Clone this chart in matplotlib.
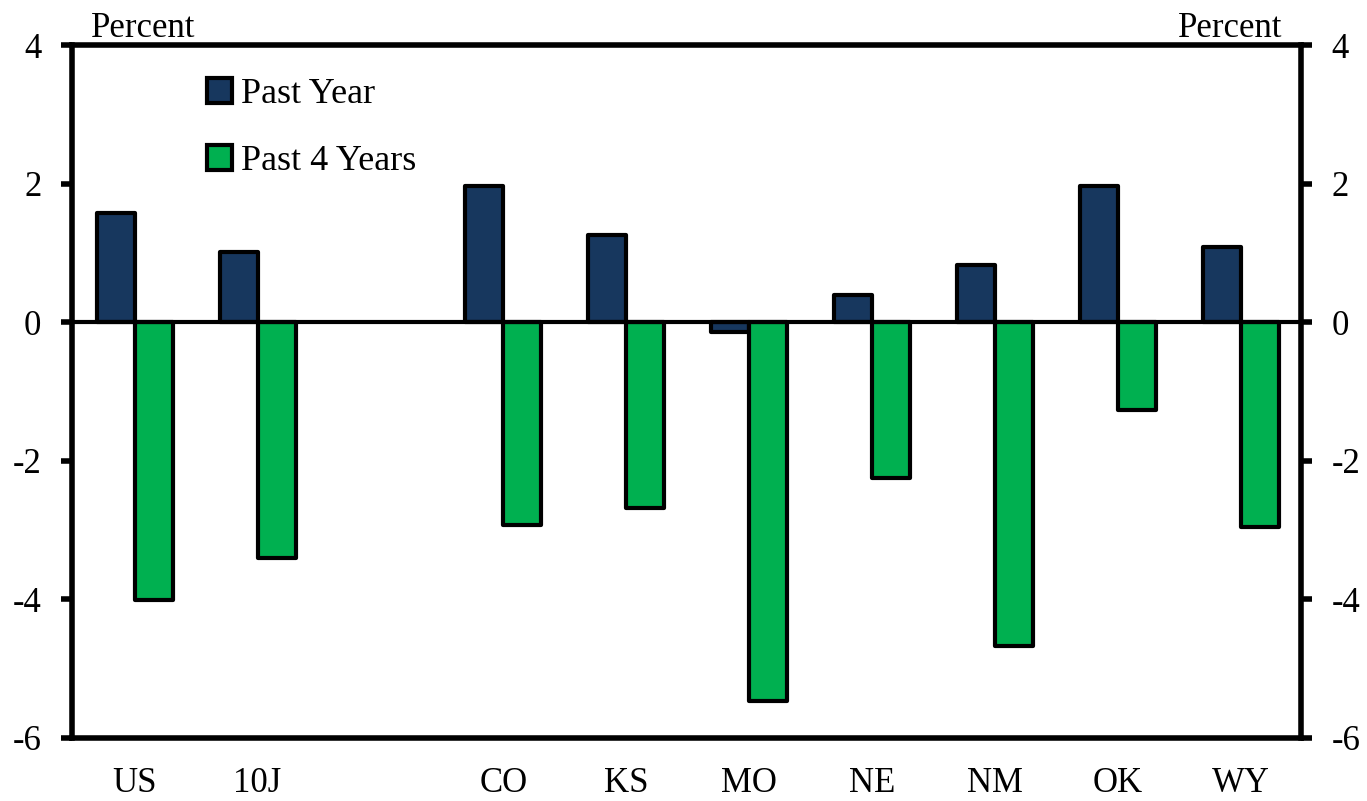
import matplotlib
matplotlib.use("Agg")
import matplotlib.pyplot as plt
import numpy as np
from matplotlib.ticker import FuncFormatter

plt.rcParams['font.family'] = ['Liberation Serif', 'DejaVu Serif']

# Data
categories = ['US', '10J', '', 'CO', 'KS', 'MO', 'NE', 'NM', 'OK', 'WY']
past_year = [1.57, 1.02, np.nan, 1.96, 1.26, -0.14, 0.39, 0.82, 1.96, 1.09]
past_4_years = [-4.01, -3.41, np.nan, -2.92, -2.68, -5.47, -2.25, -4.68, -1.26, -2.96]
yticks = [-6, -4, -2, 0, 2, 4]

navy = '#17375e'
green = '#00b050'

fig = plt.figure(figsize=(13.67, 8.01), dpi=100)
ax = fig.add_axes([0.0527, 0.0787, 0.899, 0.8651])

x = np.arange(len(categories))
width = 0.31
ax.bar(x - width/2, past_year, width, color=navy, edgecolor='black',
       linewidth=3, joinstyle='round', label='Past Year', zorder=3)
ax.bar(x + width/2, past_4_years, width, color=green, edgecolor='black',
       linewidth=3, joinstyle='round', label='Past 4 Years', zorder=3)
ax.axhline(0, color='black', linewidth=3, zorder=4)

ax.set_xlim(-0.51, 9.49)
ax.set_ylim(-6, 4)
ax.set_yticks(yticks)
ax.yaxis.set_major_formatter(FuncFormatter(lambda v, p: f'{v:.0f}'))
ax.set_xticks(x)
ax.set_xticklabels(categories, fontsize=25)
ax.tick_params(axis='x', length=0, pad=21)
ax.tick_params(axis='y', direction='out', length=8, width=4, labelsize=25,
               pad=14, left=True, right=True, labelleft=True, labelright=True)
for s in ax.spines.values():
    s.set_linewidth(4)

ax.text(0.015, 1.0, 'Percent', transform=ax.transAxes, fontsize=25,
        ha='left', va='bottom')
ax.text(0.985, 1.0, 'Percent', transform=ax.transAxes, fontsize=25,
        ha='right', va='bottom')

leg = ax.legend(loc='upper left', bbox_to_anchor=(0.083, 1.0), frameon=False,
                fontsize=26, handlelength=0.7, handleheight=0.7,
                handletextpad=0.25, labelspacing=0.95)

fig.savefig('out.png', dpi=100)
